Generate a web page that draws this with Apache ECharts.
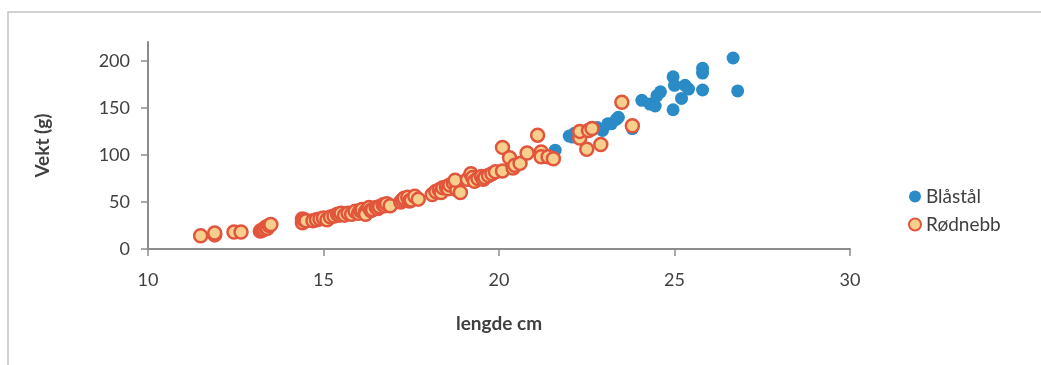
<!DOCTYPE html>
<html>
<head>
<meta charset="utf-8">
<script src="https://cdn.jsdelivr.net/npm/echarts@6/dist/echarts.min.js"></script>
<style>
  html, body { margin: 0; padding: 0; background: #fff; }
  #main { width: 1041px; height: 365px; }
</style>
</head>
<body>
<div id="main"></div>
<script>
// lengde (cm), vekt (g)
const blastal = [
  [21.6, 105], [22.0, 120], [22.1, 119], [22.15, 123], [22.7, 128], [22.8, 129],
  [22.95, 126], [23.1, 133], [23.2, 133], [23.35, 138], [23.4, 140], [23.8, 128],
  [24.07, 158], [24.3, 154], [24.45, 152], [24.5, 163], [24.6, 167], [24.96, 148],
  [24.96, 183], [25.0, 174], [25.2, 160], [25.3, 174], [25.4, 170], [25.8, 169],
  [25.8, 187], [25.8, 192], [26.67, 203], [26.8, 168]
];

const rodnebb = [
  [11.5, 14], [11.9, 15], [11.9, 17], [12.45, 18], [12.65, 18],
  [13.2, 19], [13.25, 20], [13.3, 21], [13.35, 23], [13.4, 22], [13.45, 25], [13.5, 26],
  [14.4, 28], [14.4, 32], [14.45, 31], [14.5, 30], [14.7, 30], [14.8, 31], [14.9, 32],
  [15.0, 33], [15.1, 31], [15.2, 34], [15.3, 35], [15.4, 37], [15.45, 36], [15.5, 38],
  [15.6, 36], [15.7, 38], [15.8, 37], [15.9, 40], [16.0, 38], [16.05, 41], [16.1, 42],
  [16.2, 40], [16.2, 37], [16.3, 44], [16.35, 41], [16.4, 42], [16.5, 44], [16.55, 43],
  [16.6, 45], [16.7, 47], [16.75, 46], [16.8, 48], [16.9, 46],
  [17.2, 50], [17.25, 52], [17.3, 54], [17.4, 55], [17.45, 51], [17.5, 52], [17.6, 56], [17.7, 53],
  [18.1, 58], [18.2, 61], [18.3, 63], [18.35, 60], [18.4, 65], [18.5, 66], [18.55, 64],
  [18.6, 68], [18.7, 70], [18.8, 63], [18.9, 60], [18.75, 73],
  [19.1, 74], [19.2, 80], [19.25, 76], [19.3, 72], [19.4, 75], [19.5, 77], [19.55, 74],
  [19.6, 76], [19.7, 78], [19.8, 80], [19.9, 82],
  [20.1, 83], [20.1, 108], [20.3, 97], [20.4, 86], [20.45, 89], [20.6, 91],
  [20.8, 102], [21.1, 121], [21.2, 103], [21.2, 98], [21.4, 98], [21.55, 96],
  [22.3, 118], [22.3, 125], [22.5, 106], [22.55, 126], [22.65, 128],
  [22.9, 111], [23.5, 156], [23.8, 131]
];

const yTicks = [0, 50, 100, 150, 200];

const chart = echarts.init(document.getElementById("main"));
const txt = "#404040";
const axisCol = "#8c8c8c";

const option = {
  animation: false,
  textStyle: { fontFamily: "Lato, sans-serif" },
  // ramme rundt figuren
  graphic: [
    {
      type: "rect",
      shape: { x: 8, y: 12, width: 1100, height: 400 },
      style: { fill: "none", stroke: "#c4c4c4", lineWidth: 1.5 },
      silent: true
    }
  ],
  grid: { left: 148, right: 191, top: 42, bottom: 116 },
  legend: {
    orient: "vertical",
    left: 903,
    top: 182,
    itemGap: 9,
    itemWidth: 12,
    itemHeight: 12,
    textStyle: { color: txt, fontSize: 19 },
    data: [
      { name: "Blåstål", icon: "circle" },
      { name: "Rødnebb", icon: "circle" }
    ]
  },
  xAxis: {
    type: "value",
    min: 10,
    max: 30,
    interval: 5,
    name: "lengde cm",
    nameLocation: "middle",
    nameGap: 65,
    nameTextStyle: { color: txt, fontSize: 19, fontWeight: "bold" },
    axisLine: { show: true, lineStyle: { color: axisCol, width: 2 } },
    axisTick: { show: true, length: 7, lineStyle: { color: axisCol, width: 1.5 } },
    axisLabel: { color: txt, fontSize: 18, margin: 22 },
    splitLine: { show: false }
  },
  yAxis: {
    type: "value",
    min: 0,
    max: 220,
    name: "Vekt (g)",
    nameLocation: "middle",
    nameGap: 96,
    nameRotate: 90,
    nameTextStyle: { color: txt, fontSize: 19, fontWeight: "bold" },
    axisLine: { show: true, lineStyle: { color: axisCol, width: 2 } },
    axisTick: { show: true, length: 7, customValues: yTicks, lineStyle: { color: axisCol, width: 1.5 } },
    axisLabel: { color: txt, fontSize: 18, margin: 18, customValues: yTicks },
    splitLine: { show: false }
  },
  series: [
    {
      name: "Blåstål",
      type: "scatter",
      symbolSize: 13,
      itemStyle: { color: "#2a8bc7", opacity: 1 },
      data: blastal
    },
    {
      name: "Rødnebb",
      type: "scatter",
      symbolSize: 13,
      itemStyle: { color: "#f7cf8c", borderColor: "#e2553d", borderWidth: 2.5, opacity: 1 },
      data: rodnebb
    }
  ]
};

chart.setOption(option);
</script>
</body>
</html>
